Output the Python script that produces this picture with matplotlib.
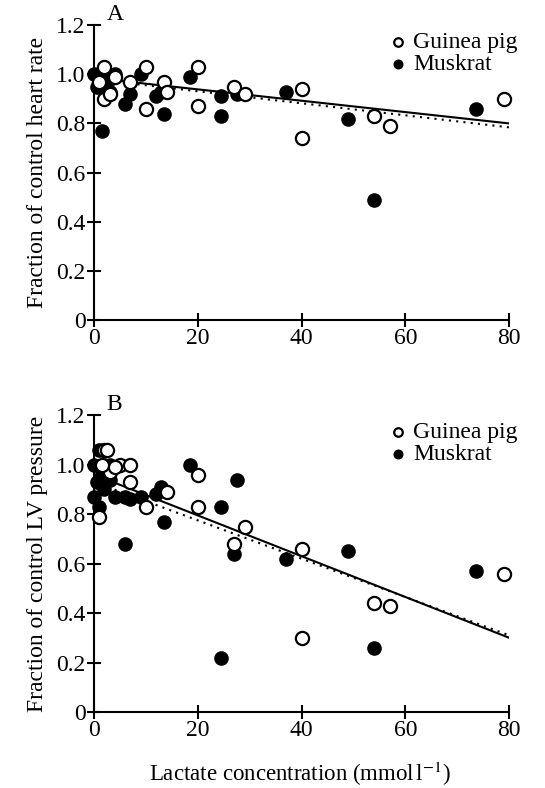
import matplotlib
matplotlib.use('Agg')
import matplotlib.pyplot as plt
import numpy as np

plt.rcParams['font.family'] = ['Liberation Serif', 'DejaVu Serif']
plt.rcParams['mathtext.fontset'] = 'stix'

# Painel A - frequencia cardiaca
gp_hr_x = [2, 10, 20, 2, 10, 13.5, 14, 20, 27, 29, 40, 40, 54, 57, 79, 7, 4, 1, 3]
gp_hr_y = [1.03, 1.03, 1.03, 0.90, 0.86, 0.97, 0.93, 0.87, 0.95, 0.92, 0.94, 0.74, 0.83, 0.79, 0.90, 0.97, 0.99, 0.97, 0.92]
mr_hr_x = [0, 1, 1.5, 2, 3, 4, 6, 7, 9, 12, 13.5, 18.5, 24.5, 24.5, 27.5, 37, 49, 54, 73.5, 13, 2, 3, 0.5, 1]
mr_hr_y = [1.0, 0.97, 0.77, 0.95, 0.93, 1.0, 0.88, 0.92, 1.0, 0.91, 0.84, 0.99, 0.91, 0.83, 0.92, 0.93, 0.82, 0.49, 0.86, 0.93, 1.0, 0.98, 0.95, 1.0]

# Painel B - pressao do VE
gp_lv_x = [1, 2, 2.5, 5, 7, 10, 14, 20, 20, 27, 29, 40, 40, 54, 57, 79, 7, 3, 1.5, 4]
gp_lv_y = [0.79, 1.06, 1.06, 1.0, 1.0, 0.83, 0.89, 0.96, 0.83, 0.68, 0.75, 0.66, 0.30, 0.44, 0.43, 0.56, 0.93, 0.97, 1.0, 0.99]
mr_lv_x = [0, 0, 0.5, 1, 1, 1.5, 2, 2, 3, 4, 6, 6, 7, 9, 12, 13, 13.5, 18.5, 24.5, 24.5, 27, 27.5, 37, 49, 54, 73.5, 3, 1]
mr_lv_y = [1.0, 0.87, 0.93, 0.83, 1.06, 0.97, 0.90, 1.0, 0.94, 0.87, 0.68, 0.87, 0.86, 0.87, 0.88, 0.91, 0.77, 1.0, 0.83, 0.22, 0.64, 0.94, 0.62, 0.65, 0.26, 0.57, 1.0, 0.93]

# Retas de regressao (inicio e fim)
line_x = [0, 80]
hr_solid = [0.985, 0.80]
hr_dotted = [0.98, 0.784]
lv_solid = [0.96, 0.30]
lv_dotted = [0.93, 0.31]

fig = plt.figure(figsize=(5.45, 7.88), dpi=100)
axA = fig.add_axes([0.1725, 0.594, 0.762, 0.374])
axB = fig.add_axes([0.1725, 0.0964, 0.762, 0.3766])

def draw_panel(ax, gx, gy, mx, my, solid, dotted, ylabel, letter):
    ax.plot(line_x, solid, color='black', lw=1.5, zorder=1)
    ax.plot(line_x, dotted, color='black', lw=1.5, ls=(0, (1, 2.5)), zorder=1)
    ax.scatter(mx, my, s=90, c='black', edgecolors='black', linewidths=1, zorder=2, label='Muskrat')
    ax.scatter(gx, gy, s=90, facecolors='white', edgecolors='black', linewidths=1.6, zorder=3, label='Guinea pig')
    ax.set_xlim(0, 80)
    ax.set_ylim(0, 1.2)
    ax.set_xticks([0, 20, 40, 60, 80])
    ax.set_yticks([0, 0.2, 0.4, 0.6, 0.8, 1.0, 1.2])
    ax.set_yticklabels(['0', '0.2', '0.4', '0.6', '0.8', '1.0', '1.2'])
    ax.spines['top'].set_visible(False)
    ax.spines['right'].set_visible(False)
    ax.spines['left'].set_linewidth(1.5)
    ax.spines['bottom'].set_linewidth(1.5)
    ax.tick_params(direction='inout', length=10, width=1.5, labelsize=17, pad=1)
    ax.set_ylabel(ylabel, fontsize=17, labelpad=6)
    ax.text(0.03, 1.0, letter, transform=ax.transAxes, fontsize=17, va='bottom')
    h, l = ax.get_legend_handles_labels()
    ax.legend(h[::-1], l[::-1], loc='upper left', bbox_to_anchor=(0.672, 1.01),
              frameon=False, fontsize=17, handletextpad=0.0, borderaxespad=0,
              labelspacing=0.0, markerscale=0.65, handlelength=1.3)
    for a in ax.spines.values():
        a.set_clip_on(False)

draw_panel(axA, gp_hr_x, gp_hr_y, mr_hr_x, mr_hr_y, hr_solid, hr_dotted,
           'Fraction of control heart rate', 'A')
draw_panel(axB, gp_lv_x, gp_lv_y, mr_lv_x, mr_lv_y, lv_solid, lv_dotted,
           'Fraction of control LV pressure', 'B')

for ax in (axA, axB):
    for c in ax.collections:
        c.set_clip_on(False)

fig.text(0.55, 0.009, r'Lactate concentration (mmol$\,$l$^{-1}$)', ha='center', fontsize=16.5)

plt.savefig('out.png', dpi=100)
